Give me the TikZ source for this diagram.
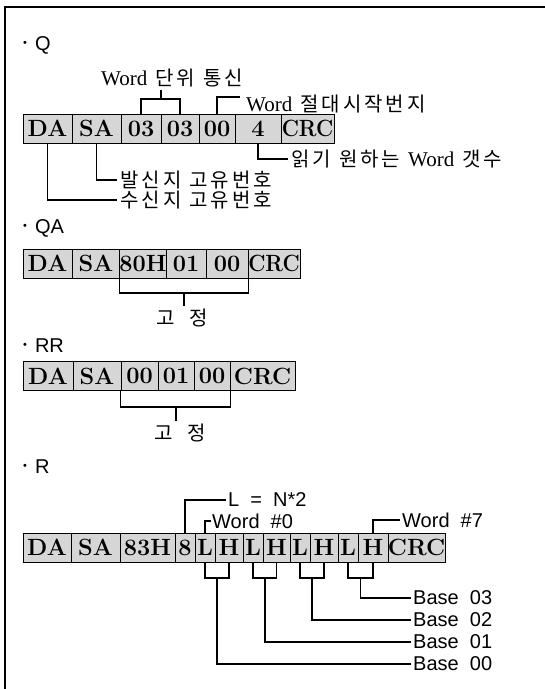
\documentclass[tikz,border=0pt]{standalone}
\usepackage{fontspec}
\setmainfont{Liberation Serif}
\setsansfont{Liberation Sans}
\newfontfamily\kr[LetterSpace=15]{Noto Sans CJK KR}
\newfontfamily\cellf{Latin Modern Roman}
\newcommand\cellfont{\cellf\bfseries\fontsize{23.5}{23.5}\selectfont}
\newcommand\klabfont{\rmfamily\fontsize{21}{21}\selectfont}
\newcommand\slabfont{\sffamily\fontsize{20}{20}\selectfont}
\newcommand\ws{\hspace{8pt}}
\newcommand\bul{\raisebox{4pt}{\fontsize{11}{11}\selectfont •}\hspace{8pt}}
\newcommand\mkcell[5]{\pgfmathsetmacro\cw{#3-#2}\pgfmathsetmacro\cx{(#2+#3)/2}\node[cellbox,minimum width=\cw pt] (#1) at (\cx,#4) {#5};}
\begin{document}
\begin{tikzpicture}[x=1pt,y=-1pt,
  cellbox/.style={draw=black, line width=0.7pt, fill=gray!32, inner sep=0pt, minimum height=29pt, font=\cellfont},
  brk/.style={line width=1.1pt},
  klabel/.style={inner sep=3pt, font=\klabfont, anchor=west},
  slabel/.style={inner sep=2pt, font=\slabfont, anchor=west}]
\useasboundingbox (0,0) rectangle (545,689);
\fill[white] (0,0) rectangle (545,689);
% frame
\draw[line width=2pt] (545,7) -- (5,7) -- (5,689);

% ---------- Q ----------
\node[slabel] (tq) at (21,45) {\bul Q};
\mkcell{qda}{23}{72}{128.5}{DA}
\mkcell{qsa}{72}{121}{128.5}{SA}
\mkcell{qa}{121}{161}{128.5}{03}
\mkcell{qb}{161}{199}{128.5}{03}
\mkcell{qc}{199}{235}{128.5}{00}
\mkcell{qd}{235}{281}{128.5}{4}
\mkcell{qe}{281}{334}{128.5}{\scalebox{0.9}[1]{CRC}}
\node[klabel, anchor=center] (tdanwi) at (172,78) {Word\ws{\kr\fontsize{20}{20}\selectfont 단위\ws 통신}};
\coordinate (dj) at (161,99);
\draw[brk] (qa.north) |- (dj) -| (qb.north);
\draw[brk] (dj) -- (dj |- tdanwi.south);
\node[klabel] (tjd) at (243,104) {Word\ws{\kr\fontsize{20}{20}\selectfont 절대시작번지}};
\coordinate (jdend) at (240,97);
\draw[brk] (qc.north) |- (jdend);
\node[klabel] (tilgi) at (288,159) {{\kr\fontsize{20}{20}\selectfont 읽기\ws 원하는}\ws Word\ws{\kr\fontsize{20}{20}\selectfont 갯수}};
\draw[brk] (qd.south) |- (tilgi.west);
\node[klabel] (tbal) at (117,180) {\kr\fontsize{20}{20}\selectfont 발신지\ws 고유번호};
\draw[brk] (qsa.south) |- (tbal.west);
\node[klabel] (tsu) at (117,200) {\kr\fontsize{20}{20}\selectfont 수신지\ws 고유번호};
\draw[brk] (qda.south) |- (tsu.west);

% ---------- QA ----------
\node[slabel] (tqa) at (21,228) {\bul QA};
\mkcell{qada}{23}{72}{263.5}{DA}
\mkcell{qasa}{72}{120}{263.5}{SA}
\mkcell{qaa}{120}{166}{263.5}{80H}
\mkcell{qab}{166}{206}{263.5}{01}
\mkcell{qac}{206}{248}{263.5}{00}
\mkcell{qad}{248}{300}{263.5}{\scalebox{0.9}[1]{CRC}}
\coordinate (qaj) at (184,293);
\draw[brk] (qaa.south west) |- (qaj) -| (qac.south east);
\node[klabel, anchor=center, font=\fontsize{20}{20}\selectfont] (tqag) at (182,318) {\kr 고\hspace{14pt}정};
\draw[brk] (qaj) -- (qaj |- tqag.north);

% ---------- RR ----------
\node[slabel] (trr) at (21,346) {\bul RR};
\mkcell{rrda}{23}{73}{376}{DA}
\mkcell{rrsa}{73}{121}{376}{SA}
\mkcell{rra}{121}{158}{376}{00}
\mkcell{rrb}{158}{194}{376}{01}
\mkcell{rrc}{194}{230}{376}{00}
\mkcell{rrd}{230}{295}{376}{CRC}
\coordinate (rrj) at (176,407);
\draw[brk] (rra.south west) |- (rrj) -| (rrc.south east);
\node[klabel, anchor=center, font=\fontsize{20}{20}\selectfont] (trrg) at (180,433) {\kr 고\hspace{14pt}정};
\draw[brk] (rrj) -- (rrj |- trrg.north);

% ---------- R ----------
\node[slabel] (tr) at (21,467) {\bul R};
\mkcell{rda}{23}{71}{547.5}{DA}
\mkcell{rsa}{71}{120}{547.5}{SA}
\mkcell{rh}{120}{175}{547.5}{83H}
\mkcell{r8}{175}{195}{547.5}{8}
\mkcell{rL1}{195}{215}{547.5}{L}
\mkcell{rH1}{215}{243}{547.5}{H}
\mkcell{rL2}{243}{263}{547.5}{L}
\mkcell{rH2}{263}{290}{547.5}{H}
\mkcell{rL3}{290}{310}{547.5}{L}
\mkcell{rH3}{310}{338}{547.5}{H}
\mkcell{rL4}{338}{358}{547.5}{L}
\mkcell{rH4}{358}{388}{547.5}{H}
\mkcell{rcrc}{388}{445}{547.5}{CRC}
\node[slabel] (tln) at (226,500) {L\ \ =\ \ N*2};
\draw[brk] (r8.north) |- (tln.west);
\node[slabel, inner sep=1pt] (tw0) at (211,521) {Word\ \ \#0};
\draw[brk] (rL1.north) |- (tw0.west);
\node[slabel] (tw7) at (400,520) {Word\ \ \#7};
\draw[brk] (rH4.north) |- (tw7.west);
\node[slabel] (tb3) at (411,598) {Base\ \ 03};
\node[slabel] (tb2) at (411,620) {Base\ \ 02};
\node[slabel] (tb1) at (411,642) {Base\ \ 01};
\node[slabel] (tb0) at (411,664) {Base\ \ 00};
\coordinate (b1) at (217,578);
\coordinate (b2) at (265,578);
\coordinate (b3) at (312,578);
\coordinate (b4) at (360.5,578);
\draw[brk] (rL1.south) |- (b1) -| (rH1.south);
\draw[brk] (rL2.south) |- (b2) -| (rH2.south);
\draw[brk] (rL3.south) |- (b3) -| (rH3.south);
\draw[brk] (rL4.south) |- (b4) -| (rH4.south);
\draw[brk] (b1) |- (tb0.west);
\draw[brk] (b2) |- (tb1.west);
\draw[brk] (b3) |- (tb2.west);
\draw[brk] (b4) |- (tb3.west);
\end{tikzpicture}
\end{document}
